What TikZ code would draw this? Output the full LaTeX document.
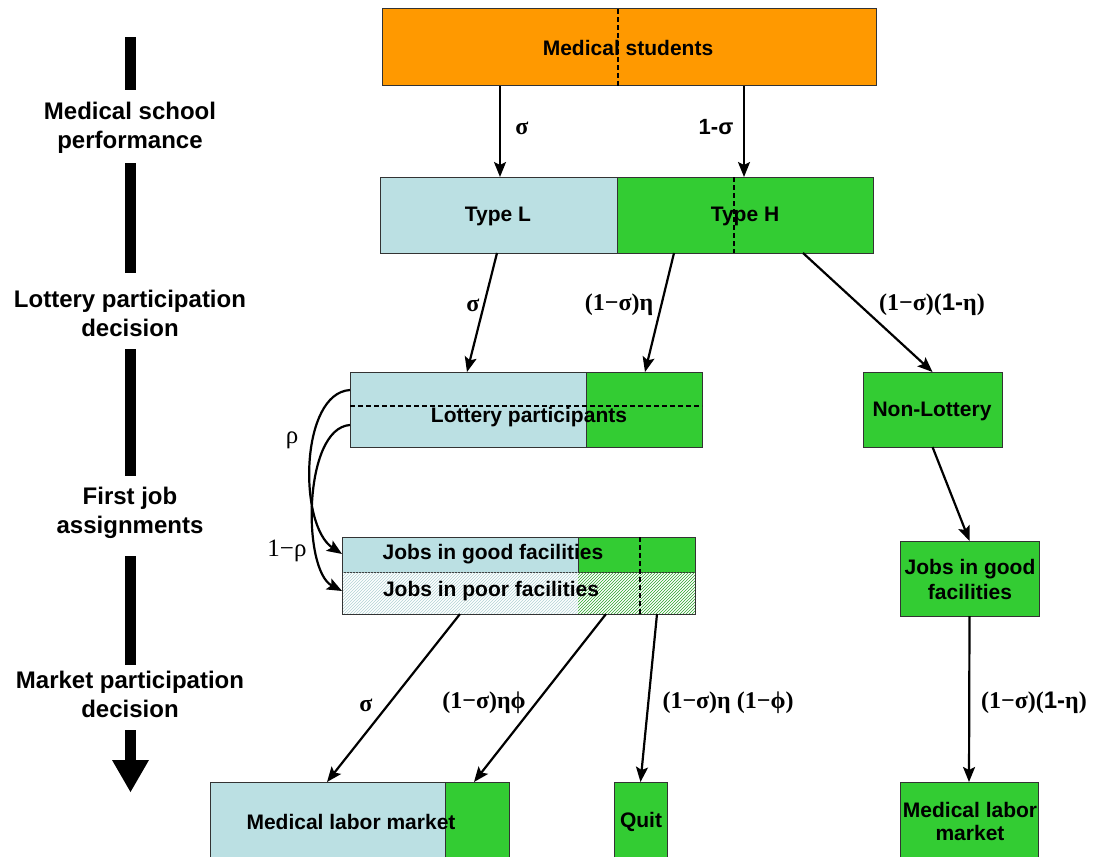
\documentclass[tikz,border=0pt]{standalone}
\usepackage{fontspec}
\setmainfont{Liberation Sans}
\newfontfamily\grk{Liberation Serif}
\usetikzlibrary{arrows.meta,patterns}
\definecolor{orng}{HTML}{FF9900}
\definecolor{lblue}{HTML}{BBE0E3}
\definecolor{grn}{HTML}{33CC33}
\definecolor{bord}{HTML}{333333}
\tikzset{
  part/.style={draw=bord,line width=1pt,inner sep=0pt,outer sep=0pt,anchor=north west},
  hatchB/.style={inner sep=0pt,outer sep=0pt,anchor=north west,fill=lblue!30,pattern color=lblue!85!gray},
  hatchG/.style={inner sep=0pt,outer sep=0pt,anchor=north west,fill=grn!55,pattern color=grn!80!black},
  txt/.style={font=\fontsize{21}{25}\selectfont\bfseries,align=center,inner sep=0pt},
  side/.style={font=\fontsize{24}{29}\selectfont\bfseries,align=center,inner sep=0pt},
  lbl/.style={font=\fontsize{24}{28}\selectfont\grk\bfseries,inner sep=0pt},
  lbln/.style={font=\fontsize{25}{28}\selectfont\grk,inner sep=0pt},
  arr/.style={line width=2.2pt,-{Stealth[length=15pt,width=12pt,inset=3pt]}},
  dsh/.style={line width=2pt,dash pattern=on 5pt off 3pt},
  bar/.style={fill=black,draw=none}
}
\begin{document}
\begin{tikzpicture}[x=1pt,y=-1pt]
\clip (0,0) rectangle (1094,856);
\fill[white] (0,0) rectangle (1094,856);

% left column
\fill[bar] (125,37) rectangle (136,90);
\fill[bar] (125,163) rectangle (136,273);
\fill[bar] (125,349) rectangle (136,476);
\fill[bar] (125,556) rectangle (136,665);
\fill[bar] (125,730) rectangle (136,762);
\fill[bar] (112,760) -- (149,760) -- (130.5,792) -- cycle;
\node[side] (s1) at (130,128) {Medical school\\performance};
\node[side] (s2) at (130,313) {Lottery participation\\decision};
\node[side] (s3) at (130,513) {First job\\assignments};
\node[side] (s4) at (130,694) {Market participation\\decision};

% boxes
\node[part,fill=orng,minimum width=494,minimum height=77] (ms) at (382,9) {};
\node[part,fill=lblue,minimum width=237,minimum height=76] (tL) at (380,177) {};
\node[part,fill=grn,minimum width=256,minimum height=76] (tH) at (617,177) {};
\node[part,fill=lblue,minimum width=236,minimum height=75] (lpB) at (350,372) {};
\node[part,fill=grn,minimum width=116,minimum height=75] (lpG) at (586,372) {};
\node[part,fill=grn,minimum width=139,minimum height=75] (nl) at (863,372) {};
\node[part,fill=lblue,minimum width=236,minimum height=35] (jgB) at (342,537) {};
\node[part,fill=grn,minimum width=117,minimum height=35] (jgG) at (578,537) {};
\node[hatchB,pattern=north east lines,minimum width=236,minimum height=42] (jpB) at (342,572) {};
\node[hatchG,pattern=north east lines,minimum width=117,minimum height=42] (jpG) at (578,572) {};
\node[part,draw=bord,minimum width=353,minimum height=77] (jobs) at (342,537) {};
\node[part,fill=grn,minimum width=139,minimum height=75] (jgR) at (900,541) {};
\node[part,fill=lblue,minimum width=235,minimum height=90] (mlB) at (210,782) {};
\node[part,fill=grn,minimum width=64,minimum height=90] (mlG) at (445,782) {};
\node[part,fill=grn,minimum width=53,minimum height=90] (quit) at (614,782) {};
\node[part,fill=grn,minimum width=138,minimum height=90] (mlR) at (900,782) {};

% dashed lines
\draw[dsh] ([xshift=236pt]ms.north west) -- ([xshift=236pt]ms.south west);
\draw[dsh] ([xshift=117pt]tH.north west) -- ([xshift=117pt]tH.south west);
\draw[dsh] ([yshift=-34pt]lpB.north west) -- ([yshift=-34pt]lpG.north east);
\draw[dsh] ([xshift=298pt]jobs.north west) -- ([xshift=298pt]jobs.south west);

% texts
\node[txt] (tms) at (628,48) {Medical students};
\node[txt] (ttL) at (498,216) {Type L};
\node[txt] (ttH) at (745,216) {Type H};
\node[txt] (tlp) at (529,417) {Lottery participants};
\node[txt] (tnl) at (932,411) {Non-Lottery};
\node[txt] (tjg) at (493,554) {Jobs in good facilities};
\node[txt] (tjp) at (491,591) {Jobs in poor facilities};
\node[txt] (tjgR) at (970,579) {Jobs in good\\facilities};
\node[txt] (tml) at (351,822) {Medical labor market};
\node[txt] (tq) at (641,822) {Quit};
\node[txt,font=\fontsize{21}{23}\selectfont\bfseries] (tmlR) at (970,821) {Medical labor\\market};

% connectors
\draw[arr] ([xshift=118pt]ms.south west) -- ([xshift=120pt]tL.north west);
\draw[arr] ([xshift=362pt]ms.south west) -- ([xshift=127pt]tH.north west);
\draw[arr] ([xshift=117pt]tL.south west) -- ([xshift=117pt]lpB.north west);
\draw[arr] ([xshift=57pt]tH.south west) -- ([xshift=59pt]lpG.north west);
\draw[arr] ([xshift=186pt]tH.south west) -- (nl.north);
\draw[arr] (nl.south) -- (jgR.north);
\draw[arr] (jgR.south) -- (mlR.north);
\draw[arr] ([xshift=118pt]jobs.south west) -- ([xshift=117pt]mlB.north west);
\draw[arr] ([xshift=264pt]jobs.south west) -- ([xshift=29pt]mlG.north west);
\draw[arr] ([xshift=315pt]jobs.south west) -- (quit.north);
\draw[arr] ([yshift=-18pt]lpB.north west) .. controls (300,393) and (298,525) .. ([yshift=-17pt]jobs.north west);
\draw[arr] ([yshift=-53pt]lpB.north west) .. controls (303,428) and (302,570) .. ([yshift=-54pt]jobs.north west);

% labels
\node[lbl] (l1) at (522,128) {σ};
\node[lbl,font=\fontsize{22}{25}\selectfont\bfseries] (l2) at (716,127) {1-σ};
\node[lbl] (l3) at (473,305) {σ};
\node[lbl] (l4) at (619,305) {(1−σ)η};
\node[lbl] (l5) at (932,305) {(1−σ)({\rmfamily 1-}η)};
\node[lbl] (l6) at (1034,703) {(1−σ)({\rmfamily 1-}η)};
\node[lbl] (l7) at (366,705) {σ};
\node[lbl] (l8) at (484,703) {(1−σ)ηϕ};
\node[lbl] (l9) at (728,703) {(1−σ)η (1−ϕ)};
\node[lbln] (l10) at (292,440) {ρ};
\node[lbln] (l11) at (287,551) {1−ρ};
\end{tikzpicture}
\end{document}
